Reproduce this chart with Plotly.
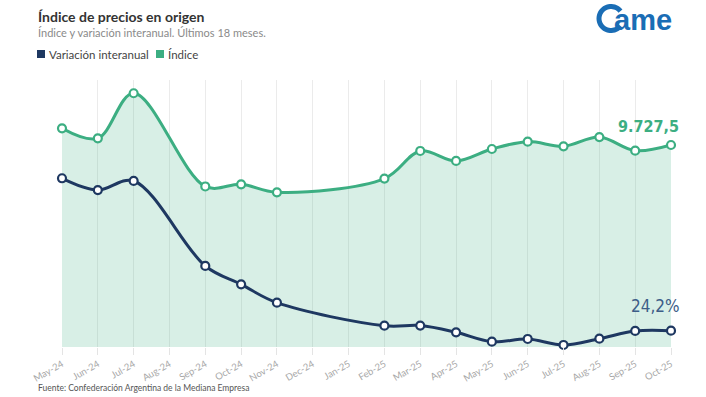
import math
import plotly.graph_objects as go

# ---------------- data ----------------
meses = ["May-24", "Jun-24", "Jul-24", "Aug-24", "Sep-24", "Oct-24", "Nov-24", "Dec-24", "Jan-25",
         "Feb-25", "Mar-25", "Apr-25", "May-25", "Jun-25", "Jul-25", "Aug-25", "Sep-25", "Oct-25"]
fechas = ["May-24", "Jun-24", "Jul-24", "Sep-24", "Oct-24", "Nov-24", "Feb-25", "Mar-25",
          "Apr-25", "May-25", "Jun-25", "Jul-25", "Aug-25", "Sep-25", "Oct-25"]
indice = [10530, 10050, 12220, 7730, 7835, 7450, 8110, 9440, 8960, 9535, 9890, 9665, 10110, 9455, 9727.5]
variacion = [250.5, 233.0, 246.5, 120.3, 93.0, 65.8, 31.6, 31.8, 21.8, 7.9, 11.9, 3.0, 12.3, 23.8, 24.2]

VERDE = "#3cae82"
AZUL = "#1e3861"
FONT = "Lato"
COND = "DejaVu Sans Condensed, Roboto, sans-serif"

# plot area in pixels
W, H = 706, 397
L, R, T, B = 62, 671, 80, 347


def px(x):
    return (x - L) / (R - L)


def py(y):
    return (B - y) / (B - T)


fig = go.Figure()
fig.add_trace(go.Scatter(
    x=fechas, y=indice, name="Índice", mode="lines+markers",
    line=dict(color=VERDE, width=3, shape="spline", smoothing=1),
    marker=dict(size=8, color="white", line=dict(color=VERDE, width=2.2)),
    fill="tozeroy", fillcolor="rgba(60,174,130,0.2)",
    cliponaxis=False, showlegend=False, yaxis="y"))
fig.add_trace(go.Scatter(
    x=fechas, y=variacion, name="Variación interanual", mode="lines+markers",
    line=dict(color=AZUL, width=3, shape="spline", smoothing=1),
    marker=dict(size=8, color="white", line=dict(color=AZUL, width=2.2)),
    cliponaxis=False, showlegend=False, yaxis="y2"))

fig.update_layout(
    width=W, height=H,
    margin=dict(l=L, r=W - R, t=T, b=H - B),
    paper_bgcolor="white", plot_bgcolor="white",
    font=dict(family=FONT),
    xaxis=dict(type="category", categoryorder="array", categoryarray=meses,
               tickvals=meses, range=[0, len(meses) - 1],
               showgrid=True, gridcolor="rgba(0,0,0,0.08)", gridwidth=1,
               ticks="outside", ticklen=7, tickcolor="#e4e4e4",
               tickangle=-30, tickfont=dict(size=9.5, color="#a8a8a8", family=FONT),
               showline=False, zeroline=False),
    yaxis=dict(range=[0, 12858], visible=False, showgrid=False),
    yaxis2=dict(range=[0, 396.4], visible=False, showgrid=False,
                overlaying="y", side="right"),
    showlegend=False,
)

ann = []
ann.append(dict(text="<b>Índice de precios en origen</b>", x=px(36), y=py(16),
                xref="paper", yref="paper", xanchor="left", yanchor="middle",
                showarrow=False, font=dict(size=14, color="#333333", family=FONT)))
ann.append(dict(text="Índice y variación interanual. Últimos 18 meses.", x=px(36), y=py(32),
                xref="paper", yref="paper", xanchor="left", yanchor="middle",
                showarrow=False, font=dict(size=11, color="#8a8a8a", family=FONT)))
ann.append(dict(text="Variación interanual", x=px(47), y=py(54),
                xref="paper", yref="paper", xanchor="left", yanchor="middle",
                showarrow=False, font=dict(size=11.5, color="#444444", family=FONT)))
ann.append(dict(text="Índice", x=px(166), y=py(54),
                xref="paper", yref="paper", xanchor="left", yanchor="middle",
                showarrow=False, font=dict(size=11.5, color="#444444", family=FONT)))
ann.append(dict(text="Fuente: Confederación Argentina de la Mediana Empresa", x=px(36), y=py(388),
                xref="paper", yref="paper", xanchor="left", yanchor="middle",
                showarrow=False, font=dict(size=8.5, color="#555555", family=FONT)))
ann.append(dict(text="<b>9.727,5</b>", x=px(648), y=py(126),
                xref="paper", yref="paper", xanchor="center", yanchor="middle",
                showarrow=False, font=dict(size=16, color=VERDE, family=COND)))
ann.append(dict(text="24,2%", x=px(655), y=py(306),
                xref="paper", yref="paper", xanchor="center", yanchor="middle",
                showarrow=False, font=dict(size=17, color="#3d5d88", family=COND)))
# logo text
ann.append(dict(text="<b>ame</b>", x=px(612), y=py(20),
                xref="paper", yref="paper", xanchor="left", yanchor="middle",
                showarrow=False, font=dict(size=29, color="#1a6db5", family="Liberation Sans")))
fig.update_layout(annotations=ann)

shapes = []
# legend squares
shapes.append(dict(type="rect", xref="paper", yref="paper", x0=px(37), x1=px(45), y0=py(50), y1=py(58),
                   fillcolor=AZUL, line=dict(width=0)))
shapes.append(dict(type="rect", xref="paper", yref="paper", x0=px(156), x1=px(164), y0=py(50), y1=py(58),
                   fillcolor=VERDE, line=dict(width=0)))
# logo "C"
Ro, Ri = 14.5, 9.5
a0, a1 = 38, 322
pts = []
n = 40
for i in range(n + 1):
    a = math.radians(a0 + (a1 - a0) * i / n)
    pts.append((Ro * math.cos(a), Ro * math.sin(a)))
for i in range(n + 1):
    a = math.radians(a1 - (a1 - a0) * i / n)
    pts.append((Ri * math.cos(a), Ri * math.sin(a)))
path = "M " + " L ".join(f"{x:.2f},{y:.2f}" for x, y in pts) + " Z"
shapes.append(dict(type="path", xref="paper", yref="paper", xsizemode="pixel", ysizemode="pixel",
                   xanchor=px(611), yanchor=py(18.5), path=path,
                   fillcolor="#1a6db5", line=dict(width=0)))
fig.update_layout(shapes=shapes)

fig.write_html("out.html", config={"displayModeBar": False},
               post_script="document.body.style.margin='0';document.body.style.padding='0';")
